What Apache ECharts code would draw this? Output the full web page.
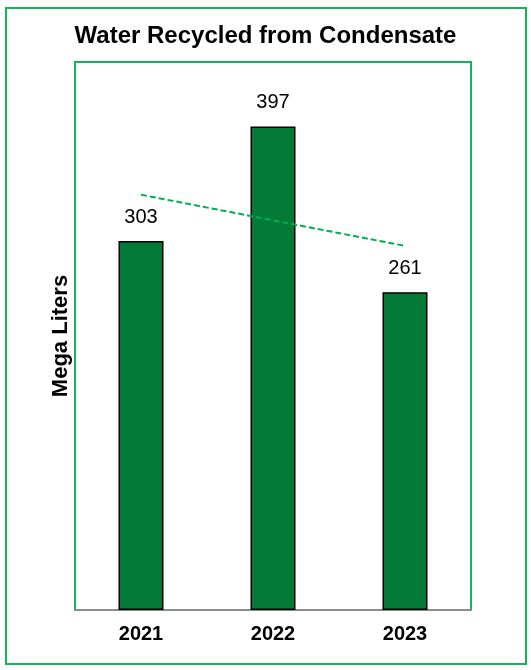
<!DOCTYPE html>
<html>
<head>
<meta charset="utf-8">
<script src="https://cdn.jsdelivr.net/npm/echarts@6/dist/echarts.min.js"></script>
<style>
  html, body { margin: 0; padding: 0; background: #fff; }
  #chart { width: 531px; height: 670px; }
</style>
</head>
<body>
<div id="chart"></div>
<script>
const titleText = 'Water Recycled from Condensate';
const yAxisName = 'Mega Liters';
const categories = ['2021', '2022', '2023'];
const values = [303, 397, 261];
// trendline end points (first and last category)
const trendValues = [341, null, 299];

const chart = echarts.init(document.getElementById('chart'));
const FONT = '"Liberation Sans", Arial, sans-serif';
const GREEN = '#14B458';
chart.setOption({
  backgroundColor: '#ffffff',
  animation: false,
  title: {
    text: titleText,
    left: 'center',
    top: 19,
    textStyle: { fontFamily: FONT, fontSize: 24, fontWeight: 'bold', color: '#000' }
  },
  graphic: [{
    type: 'rect',
    shape: { x: 6, y: 8, width: 520, height: 656 },
    style: { fill: 'none', stroke: GREEN, lineWidth: 2 },
    silent: true
  }],
  grid: {
    left: 75, right: 60, top: 62, bottom: 60,
    show: true, borderColor: GREEN, borderWidth: 2, backgroundColor: 'transparent'
  },
  xAxis: {
    type: 'category',
    data: categories,
    axisTick: { show: false },
    axisLine: { lineStyle: { color: '#8A8F8A', width: 2 } },
    axisLabel: { fontFamily: FONT, fontSize: 20, fontWeight: 'bold', color: '#000', margin: 14 }
  },
  yAxis: {
    type: 'value',
    min: 0, max: 450,
    name: yAxisName,
    nameLocation: 'middle',
    nameRotate: 90,
    nameGap: 3,
    nameTextStyle: { fontFamily: FONT, fontSize: 22, fontWeight: 'bold', color: '#000' },
    axisLine: { show: false },
    axisTick: { show: false },
    axisLabel: { show: false },
    splitLine: { show: false }
  },
  series: [{
    type: 'bar',
    data: values,
    barWidth: 45,
    itemStyle: { color: '#047A39', borderColor: '#000', borderWidth: 1.5 },
    label: { show: true, position: 'top', distance: 14, fontFamily: FONT, fontSize: 20, color: '#000' },
    z: 2
  }, {
    type: 'line',
    data: trendValues,
    connectNulls: true,
    symbol: 'none',
    lineStyle: { color: '#00B050', width: 2, type: [6, 3] },
    z: 3
  }]
});
</script>
</body>
</html>
